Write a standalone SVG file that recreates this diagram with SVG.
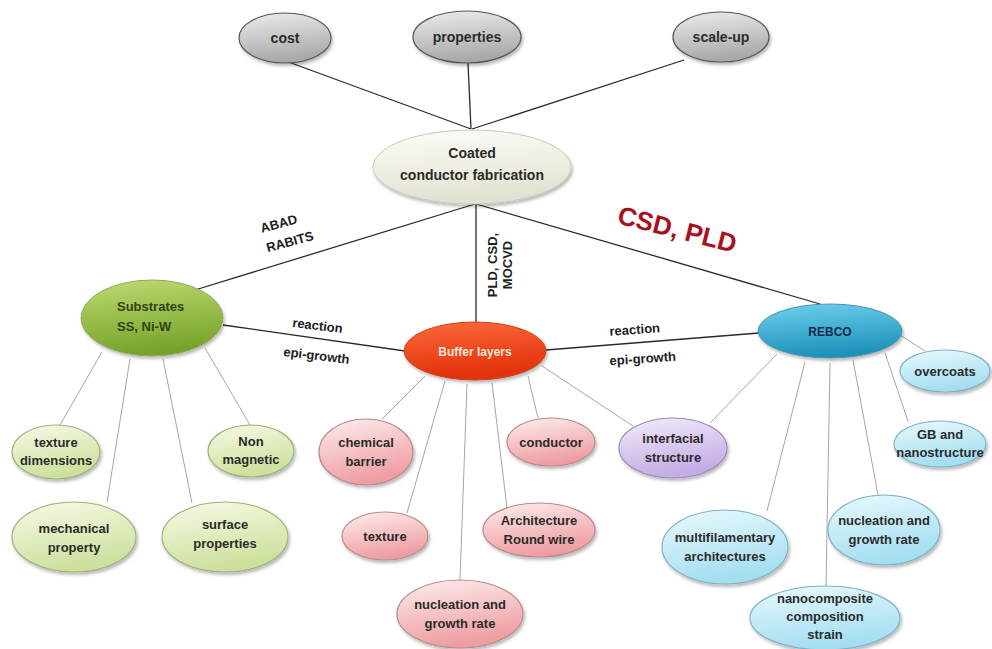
<svg xmlns="http://www.w3.org/2000/svg" width="992" height="649" viewBox="0 0 992 649">
<defs>
  <linearGradient id="gGrey" x1="0" y1="0" x2="0.2" y2="1"><stop offset="0" stop-color="#ececec"/><stop offset="1" stop-color="#a9a9a9"/></linearGradient>
  <linearGradient id="gCream" x1="0" y1="0" x2="0.2" y2="1"><stop offset="0" stop-color="#fdfdf8"/><stop offset="1" stop-color="#e2e2d2"/></linearGradient>
  <linearGradient id="gGreen" x1="0" y1="0" x2="0.2" y2="1"><stop offset="0" stop-color="#bedb72"/><stop offset="1" stop-color="#77a32b"/></linearGradient>
  <linearGradient id="gRed" x1="0" y1="0" x2="0.2" y2="1"><stop offset="0" stop-color="#fa6a3a"/><stop offset="1" stop-color="#e3300a"/></linearGradient>
  <linearGradient id="gBlue" x1="0" y1="0" x2="0.2" y2="1"><stop offset="0" stop-color="#6fd0ec"/><stop offset="1" stop-color="#1d92bb"/></linearGradient>
  <linearGradient id="gPGreen" x1="0" y1="0" x2="0.3" y2="1"><stop offset="0" stop-color="#f6fbe8"/><stop offset="1" stop-color="#cde09c"/></linearGradient>
  <linearGradient id="gPink" x1="0" y1="0" x2="0.3" y2="1"><stop offset="0" stop-color="#feeeee"/><stop offset="1" stop-color="#ee9ea3"/></linearGradient>
  <linearGradient id="gPurple" x1="0" y1="0" x2="0.3" y2="1"><stop offset="0" stop-color="#f3ecfb"/><stop offset="1" stop-color="#c4ace6"/></linearGradient>
  <linearGradient id="gPBlue" x1="0" y1="0" x2="0.3" y2="1"><stop offset="0" stop-color="#eafafe"/><stop offset="1" stop-color="#a4def1"/></linearGradient>
  <filter id="sh" x="-20%" y="-20%" width="140%" height="150%">
    <feDropShadow dx="1.5" dy="2.5" stdDeviation="1.8" flood-color="#000" flood-opacity="0.28"/>
  </filter>
</defs>
<style>
  text { font-family: "Liberation Sans", Arial, sans-serif; font-weight: bold; font-size: 13px; fill: #2b2b2b; text-anchor: middle; }
  .main { stroke: #2a2a2a; stroke-width: 1.3; fill: none; }
  .sub { stroke: #a9a69a; stroke-width: 1; fill: none; }
  ellipse { filter: url(#sh); }
  .grey { fill: url(#gGrey); stroke: #555; stroke-width: 1.2; }
  .cream { fill: url(#gCream); stroke: #c8c8bc; stroke-width: 1; }
  .green { fill: url(#gGreen); stroke: #8cab5c; stroke-width: 1; }
  .red { fill: url(#gRed); stroke: #d0401c; stroke-width: 1; }
  .blue { fill: url(#gBlue); stroke: #4a93ad; stroke-width: 1; }
  .pgreen { fill: url(#gPGreen); stroke: #9fb07a; stroke-width: 1.2; }
  .pink { fill: url(#gPink); stroke: #b98a8c; stroke-width: 1.2; }
  .purple { fill: url(#gPurple); stroke: #9a8cb8; stroke-width: 1.2; }
  .pblue { fill: url(#gPBlue); stroke: #7fb2c4; stroke-width: 1.2; }
  .lbl { font-size: 13px; fill: #1e1e1e; }
  .big { font-size: 26px; fill: #a8101c; }
</style>

<g id="connectors">
  <line class="main" x1="283" y1="60" x2="471" y2="129"/>
  <line class="main" x1="468" y1="63" x2="471" y2="129"/>
  <line class="main" x1="684" y1="60" x2="472" y2="129"/>
  <line class="main" x1="475" y1="204" x2="195" y2="290"/>
  <line class="main" x1="476" y1="204" x2="476" y2="322"/>
  <line class="main" x1="476" y1="204" x2="820" y2="304"/>
  <line class="main" x1="223" y1="325" x2="405" y2="351"/>
  <line class="main" x1="546" y1="350" x2="759" y2="333"/>

  <line class="sub" x1="102" y1="352" x2="60" y2="425"/>
  <line class="sub" x1="130" y1="359" x2="107" y2="502"/>
  <line class="sub" x1="163" y1="359" x2="192" y2="503"/>
  <line class="sub" x1="205" y1="348" x2="250" y2="425"/>

  <line class="sub" x1="425" y1="376" x2="382" y2="419"/>
  <line class="sub" x1="445" y1="381" x2="407" y2="513"/>
  <line class="sub" x1="467" y1="384" x2="460" y2="580"/>
  <line class="sub" x1="492" y1="383" x2="507" y2="508"/>
  <line class="sub" x1="528" y1="376" x2="538" y2="418"/>
  <line class="sub" x1="542" y1="366" x2="633" y2="426"/>

  <line class="sub" x1="777" y1="354" x2="710" y2="423"/>
  <line class="sub" x1="805" y1="362" x2="767" y2="511"/>
  <line class="sub" x1="830" y1="363" x2="826" y2="586"/>
  <line class="sub" x1="853" y1="360" x2="878" y2="495"/>
  <line class="sub" x1="885" y1="353" x2="908" y2="421"/>
  <line class="sub" x1="900" y1="335" x2="925" y2="351"/>
</g>

<g id="edge-labels">
  <text class="lbl" transform="translate(280,228) rotate(-15)">ABAD</text>
  <text class="lbl" transform="translate(291,246) rotate(-15)">RABITS</text>
  <text class="lbl" transform="translate(497,265) rotate(-90)">PLD, CSD,</text>
  <text class="lbl" transform="translate(512,265) rotate(-90)">MOCVD</text>
  <text class="big" transform="translate(675,238) rotate(14)">CSD, PLD</text>
  <text class="lbl" transform="translate(317,330) rotate(7)">reaction</text>
  <text class="lbl" transform="translate(316,360) rotate(7)">epi-growth</text>
  <text class="lbl" transform="translate(635,334) rotate(-4)">reaction</text>
  <text class="lbl" transform="translate(643,363) rotate(-4)">epi-growth</text>
</g>

<g id="n-cost"><ellipse class="grey" cx="285" cy="38" rx="46" ry="25"/><text x="285" y="43" style="font-size:14px">cost</text></g>
<g id="n-properties"><ellipse class="grey" cx="467" cy="37" rx="54" ry="26"/><text x="467" y="42" style="font-size:14px">properties</text></g>
<g id="n-scaleup"><ellipse class="grey" cx="721" cy="37" rx="48" ry="25"/><text x="721" y="42" style="font-size:14px">scale-up</text></g>

<g id="n-coated"><ellipse class="cream" cx="472" cy="167" rx="99" ry="37"/>
  <text x="472" y="158" style="font-size:14px">Coated</text>
  <text x="472" y="180" style="font-size:14px">conductor fabrication</text></g>

<g id="n-substrates"><ellipse class="green" cx="152" cy="318" rx="71" ry="38"/>
  <text x="117" y="311" style="text-anchor:start;fill:#33420f">Substrates</text>
  <text x="117" y="331" style="text-anchor:start;fill:#33420f">SS, Ni-W</text></g>

<g id="n-buffer"><ellipse class="red" cx="475" cy="351" rx="71" ry="29"/>
  <text x="475" y="356" style="fill:#fde6dc;font-size:12px">Buffer layers</text></g>

<g id="n-rebco"><ellipse class="blue" cx="830" cy="331" rx="72" ry="27"/>
  <text x="830" y="336" style="fill:#1a2a4a;font-size:12px">REBCO</text></g>

<g id="n-texture-dim"><ellipse class="pgreen" cx="56" cy="452" rx="44" ry="27"/>
  <text x="56" y="447">texture</text><text x="56" y="465">dimensions</text></g>
<g id="n-nonmag"><ellipse class="pgreen" cx="251" cy="451" rx="43" ry="26"/>
  <text x="251" y="446">Non</text><text x="251" y="464">magnetic</text></g>
<g id="n-mech"><ellipse class="pgreen" cx="74" cy="537" rx="62" ry="35"/>
  <text x="74" y="533">mechanical</text><text x="74" y="552">property</text></g>
<g id="n-surface"><ellipse class="pgreen" cx="225" cy="537" rx="63" ry="35"/>
  <text x="225" y="529">surface</text><text x="225" y="548">properties</text></g>

<g id="n-chem"><ellipse class="pink" cx="366" cy="452" rx="47" ry="33"/>
  <text x="366" y="447">chemical</text><text x="366" y="466">barrier</text></g>
<g id="n-conductor"><ellipse class="pink" cx="551" cy="442" rx="44" ry="24"/>
  <text x="551" y="447">conductor</text></g>
<g id="n-texture"><ellipse class="pink" cx="385" cy="536" rx="43" ry="24"/>
  <text x="385" y="541">texture</text></g>
<g id="n-arch"><ellipse class="pink" cx="539" cy="530" rx="56" ry="27"/>
  <text x="539" y="525">Architecture</text><text x="539" y="544">Round wire</text></g>
<g id="n-nucl-buf"><ellipse class="pink" cx="460" cy="614" rx="63" ry="34"/>
  <text x="460" y="609">nucleation and</text><text x="460" y="628">growth rate</text></g>

<g id="n-interfacial"><ellipse class="purple" cx="673" cy="448" rx="54" ry="30"/>
  <text x="673" y="443">interfacial</text><text x="673" y="462">structure</text></g>

<g id="n-overcoats"><ellipse class="pblue" cx="945" cy="371" rx="45" ry="21"/>
  <text x="945" y="376">overcoats</text></g>
<g id="n-gb"><ellipse class="pblue" cx="940" cy="444" rx="46" ry="23"/>
  <text x="940" y="439">GB and</text><text x="940" y="457">nanostructure</text></g>
<g id="n-multi"><ellipse class="pblue" cx="725" cy="547" rx="63" ry="37"/>
  <text x="725" y="542">multifilamentary</text><text x="725" y="561">architectures</text></g>
<g id="n-nucl-reb"><ellipse class="pblue" cx="884" cy="530" rx="56" ry="35"/>
  <text x="884" y="525">nucleation and</text><text x="884" y="544">growth rate</text></g>
<g id="n-nano"><ellipse class="pblue" cx="825" cy="618" rx="75" ry="32"/>
  <text x="825" y="603">nanocomposite</text><text x="825" y="621">composition</text><text x="825" y="639">strain</text></g>
</svg>
